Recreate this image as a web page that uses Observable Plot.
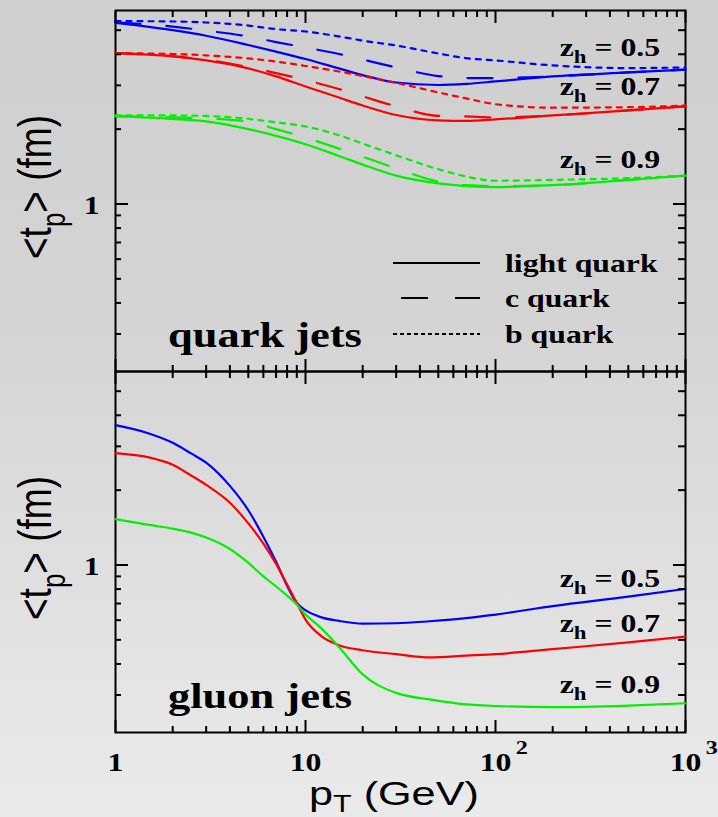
<!DOCTYPE html>
<html><head><meta charset="utf-8">
<script src="https://cdn.jsdelivr.net/npm/d3@7"></script>
<script src="https://cdn.jsdelivr.net/npm/@observablehq/plot@0.6"></script>
<style>
html,body{margin:0;padding:0;}
body{width:718px;height:817px;overflow:hidden;background:linear-gradient(to bottom,#cfcfcf 0%,#d4d4d4 40%,#e0e0e0 72%,#eaeaea 100%);}
#wrap{position:relative;width:718px;height:817px;}
#wrap svg{position:absolute;left:0;}
text{white-space:pre;}
</style></head><body><div id="wrap"></div>
<script>
// ---------- data ----------
const ptQuark = [1, 2, 3, 5, 7, 10, 15, 20, 30, 50, 70, 100, 200, 500, 1000];
const quarkLight05 = [5.35, 5.00, 4.75, 4.36, 4.10, 3.83, 3.51, 3.30, 3.08, 3.01, 3.04, 3.11, 3.26, 3.38, 3.47];
const quarkC05     = [5.38, 5.17, 4.98, 4.72, 4.48, 4.26, 4.01, 3.81, 3.54, 3.27, 3.21, 3.21, 3.26, 3.38, 3.47];
const quarkB05     = [5.44, 5.42, 5.37, 5.22, 5.05, 4.94, 4.72, 4.54, 4.34, 4.03, 3.86, 3.78, 3.61, 3.52, 3.54];
const quarkLight07 = [4.04, 3.92, 3.78, 3.51, 3.26, 2.97, 2.68, 2.49, 2.28, 2.17, 2.16, 2.19, 2.27, 2.38, 2.47];
const quarkC07     = [4.04, 3.93, 3.80, 3.55, 3.36, 3.15, 2.90, 2.71, 2.47, 2.26, 2.25, 2.23, 2.27, 2.38, 2.47];
const quarkB07     = [4.04, 4.01, 3.96, 3.85, 3.74, 3.59, 3.41, 3.27, 3.07, 2.81, 2.66, 2.52, 2.44, 2.45, 2.49];
const quarkLight09 = [2.25, 2.20, 2.15, 2.00, 1.88, 1.74, 1.56, 1.44, 1.30, 1.21, 1.18, 1.17, 1.19, 1.25, 1.30];
const quarkC09     = [2.26, 2.23, 2.21, 2.14, 2.00, 1.85, 1.67, 1.55, 1.39, 1.23, 1.19, 1.18, 1.19, 1.25, 1.30];
const quarkB09     = [2.27, 2.27, 2.26, 2.20, 2.13, 2.05, 1.89, 1.75, 1.57, 1.38, 1.29, 1.24, 1.25, 1.27, 1.30];

const ptGluon = [1, 1.5, 2, 2.5, 3, 4, 5, 6, 7, 8, 9, 10, 12, 15, 20, 30, 45, 70, 100, 200, 500, 1000];
const gluon05 = [3.65, 3.38, 3.10, 2.81, 2.58, 2.08, 1.66, 1.30, 1.03, 0.825, 0.703, 0.658, 0.617, 0.596, 0.581, 0.583, 0.594, 0.611, 0.632, 0.683, 0.746, 0.801];
const gluon07 = [2.82, 2.71, 2.53, 2.29, 2.10, 1.78, 1.47, 1.22, 1.01, 0.834, 0.703, 0.603, 0.520, 0.476, 0.454, 0.438, 0.425, 0.432, 0.438, 0.459, 0.488, 0.515];
const gluon09 = [1.53, 1.45, 1.40, 1.35, 1.29, 1.16, 1.02, 0.90, 0.82, 0.753, 0.693, 0.632, 0.560, 0.468, 0.363, 0.306, 0.288, 0.275, 0.271, 0.268, 0.272, 0.278];

const zhValues = [0.5, 0.7, 0.9];
const zhColors = ["#0000ff", "#ff0000", "#00f000"];
const quarkKinds = ["light", "c", "b"];
const quarkKindLabels = ["light quark", "c quark", "b quark"];
const panelTitles = ["quark jets", "gluon jets"];

const xMajorTicks = [1, 10, 100, 1000];
const xTickLabels = ["1", "10", "10^2", "10^3"];
const xMinorTicks = [2, 3, 4, 5, 6, 7, 8, 9, 20, 30, 40, 50, 60, 70, 80, 90, 200, 300, 400, 500, 600, 700, 800, 900];
const yMajorTicks = [1];
const yTickLabels = ["1"];
const yMinorTicks = [0.3, 0.4, 0.5, 0.6, 0.7, 0.8, 0.9, 2, 3, 4, 5];

// label anchor positions (data space)
const zLabelPt = 740;
const quarkLabelT = [3.92, 2.72, 1.395];
const gluonLabelT = [0.811, 0.535, 0.304];

// ---------- build tables ----------
function rows(pt, values, zh, kind) { return pt.map((p, i) => ({pt: p, t: values[i], zh, kind})); }
const quarkRows = [
  ...rows(ptQuark, quarkLight05, 0.5, "light"), ...rows(ptQuark, quarkC05, 0.5, "c"), ...rows(ptQuark, quarkB05, 0.5, "b"),
  ...rows(ptQuark, quarkLight07, 0.7, "light"), ...rows(ptQuark, quarkC07, 0.7, "c"), ...rows(ptQuark, quarkB07, 0.7, "b"),
  ...rows(ptQuark, quarkLight09, 0.9, "light"), ...rows(ptQuark, quarkC09, 0.9, "c"), ...rows(ptQuark, quarkB09, 0.9, "b")
];
const gluonRows = [
  ...rows(ptGluon, gluon05, 0.5, "light"), ...rows(ptGluon, gluon07, 0.7, "light"), ...rows(ptGluon, gluon09, 0.9, "light")
];

const dashes = {light: undefined, c: "25,26", b: "5,6"};
const SERIF = "'Liberation Serif','Times New Roman',serif";
const SANS = "'Liberation Sans',Arial,Helvetica,sans-serif";
const SX = 1.27;

function panel(data, {height, marginTop, marginBottom, xLabels}) {
  const marks = [
    Plot.frame({stroke: "black", strokeWidth: 2}),
    ...quarkKinds.map(kind => Plot.line(data.filter(d => d.kind === kind), {
      x: "pt", y: "t", z: "zh", stroke: "zh", strokeWidth: 2.2, curve: "monotone-x", strokeDasharray: dashes[kind]
    })),
    Plot.axisX(xMinorTicks, {anchor: "bottom", tickSize: -6, fill: "none", strokeWidth: 2}),
    Plot.axisX(xMajorTicks, {anchor: "bottom", tickSize: -12, fill: "none", strokeWidth: 2}),
    Plot.axisX(xMinorTicks, {anchor: "top", tickSize: -6, fill: "none", strokeWidth: 2}),
    Plot.axisX(xMajorTicks, {anchor: "top", tickSize: -12, fill: "none", strokeWidth: 2}),
    Plot.axisY(yMinorTicks, {anchor: "left", tickSize: -6, fill: "none", strokeWidth: 2}),
    Plot.axisY(yMajorTicks, {anchor: "left", tickSize: -13, fill: "none", strokeWidth: 2}),
    Plot.axisY(yMinorTicks, {anchor: "right", tickSize: -8, fill: "none", strokeWidth: 2}),
    Plot.axisY(yMajorTicks, {anchor: "right", tickSize: -13, fill: "none", strokeWidth: 2}),
    Plot.axisY(yMajorTicks, {anchor: "left", tickSize: 0, tickPadding: 16, dy: 2, stroke: "none",
      tickFormat: d => yTickLabels[yMajorTicks.indexOf(d)], label: null})
  ];
  if (xLabels) marks.push(Plot.axisX(xMajorTicks, {anchor: "bottom", tickSize: 0, tickPadding: 21, stroke: "none",
    tickFormat: d => xTickLabels[xMajorTicks.indexOf(d)], label: null}));
  return Plot.plot({
    width: 718, height, marginLeft: 115, marginRight: 33, marginTop, marginBottom,
    x: {type: "log", domain: [1, 1000], label: null},
    y: {type: "log", domain: [0.212, 6], label: null},
    color: {type: "ordinal", domain: zhValues, range: zhColors},
    style: {background: "transparent", overflow: "visible", color: "black",
      fontFamily: SERIF, fontWeight: "bold", fontSize: "25px"},
    marks
  });
}

const wrap = document.getElementById("wrap");
const topSvg = panel(quarkRows, {height: 371, marginTop: 10, marginBottom: 0, xLabels: false});
const botSvg = panel(gluonRows, {height: 446, marginTop: 0, marginBottom: 85, xLabels: true});
topSvg.style.top = "0px";
botSvg.style.top = "371px";
wrap.append(topSvg, botSvg);

// ---------- text post-processing ----------
function stretchTickLabels(svg) {
  d3.select(svg).selectAll('g[aria-label$="tick label"] text').each(function () {
    const el = this;
    const raw = el.textContent;
    const tr = el.getAttribute("transform") || "";
    el.setAttribute("transform", tr + ` scale(${SX},1)`);
    if (raw.includes("^")) {
      const [base, exp] = raw.split("^");
      el.textContent = base;
      const ts = document.createElementNS("http://www.w3.org/2000/svg", "tspan");
      ts.setAttribute("x", 16);
      ts.setAttribute("dy", -17);
      ts.setAttribute("font-size", 19);
      ts.setAttribute("text-anchor", "start");
      ts.textContent = exp;
      el.appendChild(ts);
    }
  });
}
stretchTickLabels(topSvg);
stretchTickLabels(botSvg);

function zLabels(svg, values) {
  const xs = svg.scale("x"), ys = svg.scale("y");
  const s = d3.select(svg);
  zhValues.forEach((z, i) => {
    const t = s.append("text")
      .attr("transform", `translate(${xs.apply(zLabelPt)},${ys.apply(values[i])}) scale(${SX},1)`)
      .attr("text-anchor", "end").attr("font-family", SERIF).attr("font-weight", "bold").attr("font-size", 25).attr("fill", "black");
    t.append("tspan").text("z");
    t.append("tspan").attr("font-size", 18).attr("dy", 7).text("h");
    t.append("tspan").attr("dy", -7).text(" = " + z.toFixed(1));
  });
}
zLabels(topSvg, quarkLabelT);
zLabels(botSvg, gluonLabelT);

function panelTitle(svg, text, x, y) {
  d3.select(svg).append("text").attr("transform", `translate(${x},${y}) scale(${SX},1)`)
    .attr("text-anchor", "start")
    .attr("font-family", SERIF).attr("font-weight", "bold").attr("font-size", 35).attr("fill", "black").text(text);
}
panelTitle(topSvg, panelTitles[0], 168, 347);
panelTitle(botSvg, panelTitles[1], 168, 337);

// legend (top panel)
{
  const s = d3.select(topSvg);
  const ys = [263, 298, 334];
  quarkKinds.forEach((k, i) => {
    s.append("line").attr("x1", k === "c" ? 401 : 393).attr("x2", 480).attr("y1", ys[i]).attr("y2", ys[i])
      .attr("stroke", "black").attr("stroke-width", 2.2)
      .attr("stroke-dasharray", k === "c" ? "27,27" : k === "b" ? "4,3" : null);
    s.append("text").attr("transform", `translate(505,${ys[i] + 9}) scale(${SX},1)`)
      .attr("text-anchor", "start")
      .attr("font-family", SERIF).attr("font-weight", "bold").attr("font-size", 25).attr("fill", "black")
      .text(quarkKindLabels[i]);
  });
}

// axis titles
function yTitle(svg, cy) {
  const t = d3.select(svg).append("text")
    .attr("transform", `translate(51,${cy}) scale(${SX},1) rotate(-90)`)
    .attr("text-anchor", "middle").attr("font-family", SANS).attr("font-weight", "normal")
    .attr("font-size", 37).attr("fill", "black");
  t.append("tspan").text("<t");
  t.append("tspan").attr("font-size", 26).attr("dy", 11).text("p");
  t.append("tspan").attr("dy", -11).text("> (fm)");
}
yTitle(topSvg, 187);
yTitle(botSvg, 548 - 371);
{
  const t = d3.select(botSvg).append("text")
    .attr("transform", `translate(309,${805 - 371}) scale(${SX},1)`)
    .attr("text-anchor", "start")
    .attr("font-family", SANS).attr("font-weight", "normal").attr("font-size", 34).attr("fill", "black");
  t.append("tspan").text("p");
  t.append("tspan").attr("font-size", 24).attr("dy", 7).text("T");
  t.append("tspan").attr("dy", -7).text(" (GeV)");
}
</script>
</body></html>
